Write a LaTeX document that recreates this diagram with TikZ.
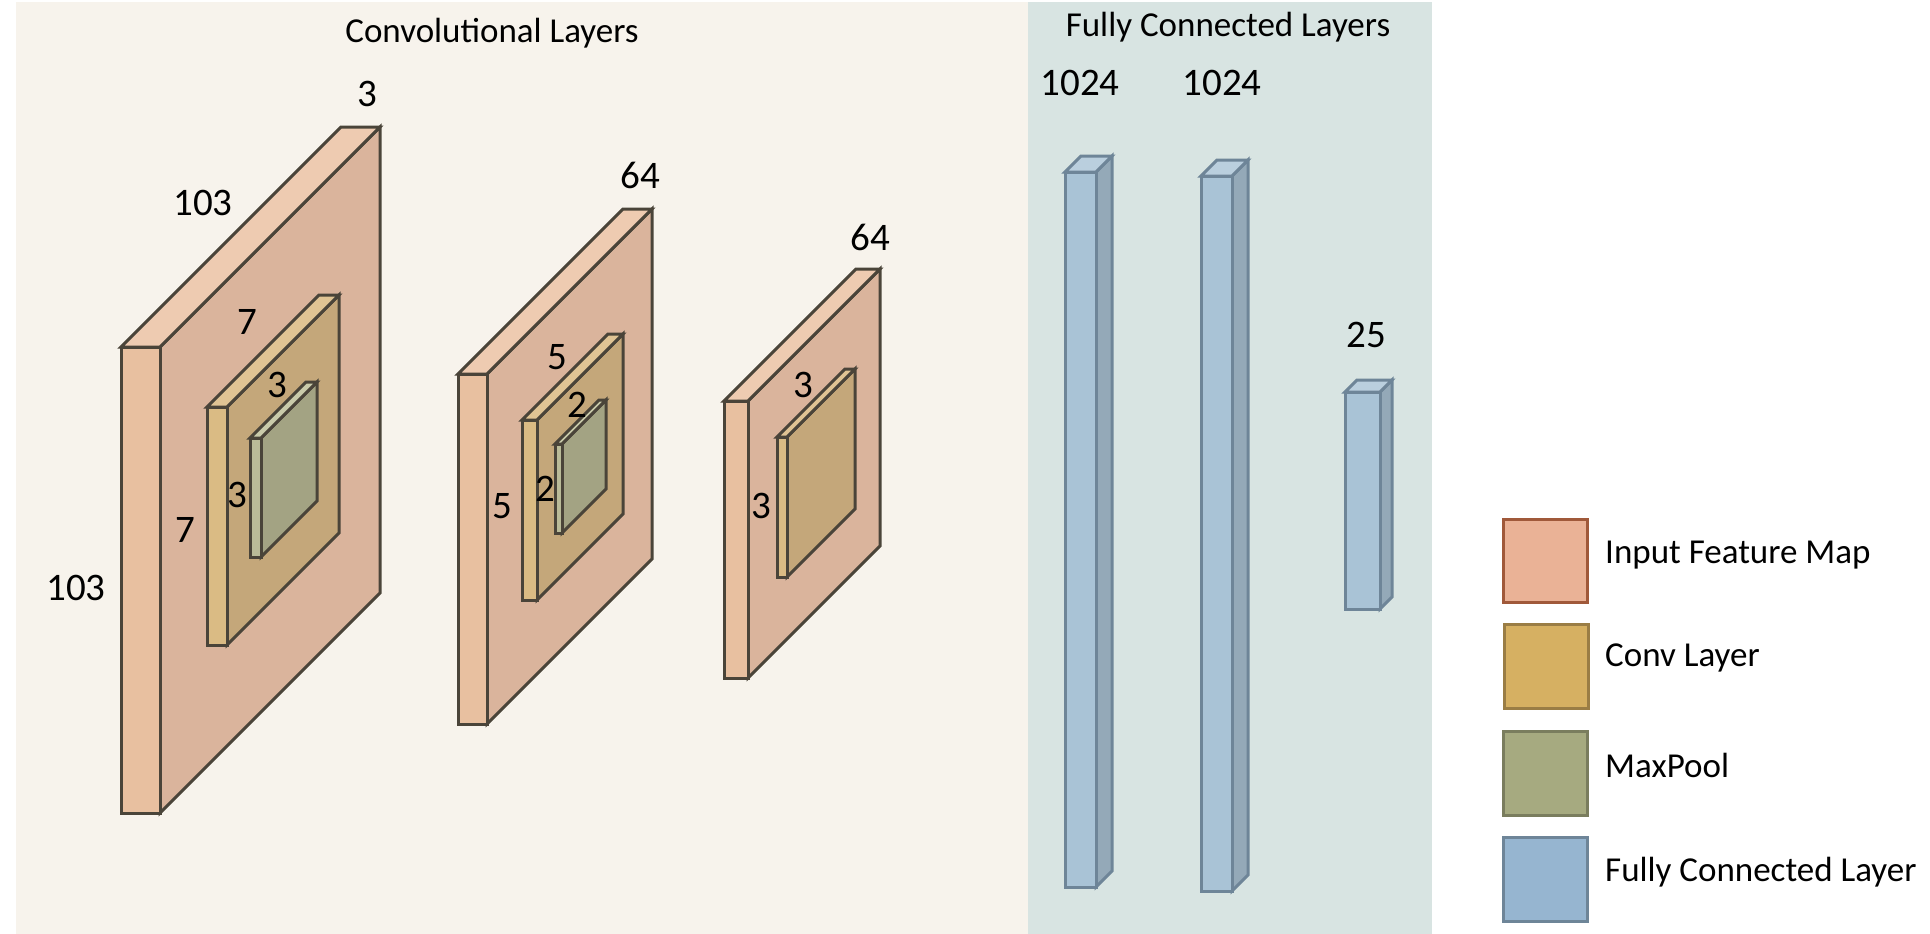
\documentclass[tikz,border=0pt]{standalone}
\usepackage{fontspec}
\setmainfont{Carlito}
\definecolor{bgL}{HTML}{F7F3EC}
\definecolor{bgR}{HTML}{D8E4E2}
\definecolor{edgeD}{HTML}{4A4439}
\definecolor{inFront}{HTML}{E8C0A0}
\definecolor{inTop}{HTML}{EECBB1}
\definecolor{inSide}{HTML}{DAB49C}
\definecolor{cvFront}{HTML}{DABB84}
\definecolor{cvTop}{HTML}{E0C494}
\definecolor{cvSide}{HTML}{C4A77A}
\definecolor{mpFront}{HTML}{BABB98}
\definecolor{mpTop}{HTML}{CACBAA}
\definecolor{mpSide}{HTML}{A3A383}
\definecolor{fcFront}{HTML}{A9C3D6}
\definecolor{fcTop}{HTML}{BACFDE}
\definecolor{fcSide}{HTML}{94A9B8}
\definecolor{fcEdge}{HTML}{6E8598}
\definecolor{lgIn}{HTML}{EAB296}
\definecolor{lgInE}{HTML}{A0593A}
\definecolor{lgCv}{HTML}{D6B062}
\definecolor{lgCvE}{HTML}{9A7D45}
\definecolor{lgMp}{HTML}{A6AA80}
\definecolor{lgMpE}{HTML}{7A7D5E}
\definecolor{lgFc}{HTML}{96B5D0}
\definecolor{lgFcE}{HTML}{6E8598}
% #1 x1, #2 x2, #3 ytop, #4 ybot, #5 depth, #6 front, #7 top, #8 side, #9 edge
\newcommand\cubx[9]{%
  \filldraw[fill=#8,draw=#9,line width=3pt,line join=miter]
    (#2,#3) -- ({#2+#5},{#3-#5}) -- ({#2+#5},{#4-#5}) -- (#2,#4) -- cycle;
  \filldraw[fill=#7,draw=#9,line width=3pt,line join=miter]
    (#1,#3) -- ({#1+#5},{#3-#5}) -- ({#2+#5},{#3-#5}) -- (#2,#3) -- cycle;
  \filldraw[fill=#6,draw=#9,line width=3pt,line join=miter]
    (#1,#3) rectangle (#2,#4);
}
\tikzset{
  numlbl/.style={font=\fontsize{39}{46}\selectfont, inner sep=0pt},
  ttl/.style={font=\fontsize{35}{42}\selectfont, inner sep=0pt},
  lgtxt/.style={font=\fontsize{35}{42}\selectfont, anchor=west, inner sep=0pt},
}
\begin{document}
\begin{tikzpicture}[x=1pt,y=-1pt]
\useasboundingbox (0,0) rectangle (1930,934);
\fill[white] (0,0) rectangle (1930,934);
\fill[bgL] (16,2) rectangle (1028,934);
\fill[bgR] (1028,2) rectangle (1432,934);

\node[ttl] (tconv) at (492,33) {Convolutional Layers};
\node[ttl] (tfc) at (1228,27) {Fully Connected Layers};

% block 1
\cubx{121}{160}{347}{813}{220}{inFront}{inTop}{inSide}{edgeD}
\cubx{207}{227}{407}{645}{112}{cvFront}{cvTop}{cvSide}{edgeD}
\cubx{250}{261}{438}{557}{56}{mpFront}{mpTop}{mpSide}{edgeD}
\node[numlbl] (l1a) at (367,94) {3};
\node[numlbl] (l1b) at (203,203) {103};
\node[numlbl] (l1c) at (76,588) {103};
\node[numlbl] (l1d) at (247,322) {7};
\node[numlbl] (l1e) at (185,530) {7};
\node[numlbl] (l1f) at (277,385) {3};
\node[numlbl] (l1g) at (237,495) {3};

% block 2
\cubx{458}{487}{374}{724}{165}{inFront}{inTop}{inSide}{edgeD}
\cubx{522}{537}{420}{600}{86}{cvFront}{cvTop}{cvSide}{edgeD}
\cubx{555}{562}{444}{533}{44}{mpFront}{mpTop}{mpSide}{edgeD}
\node[numlbl] (l2a) at (640,175) {64};
\node[numlbl] (l2b) at (557,357) {5};
\node[numlbl] (l2c) at (502,506) {5};
\node[numlbl] (l2d) at (577,405) {2};
\node[numlbl] (l2e) at (545,489) {2};

% block 3
\cubx{724}{748}{401}{678}{132}{inFront}{inTop}{inSide}{edgeD}
\cubx{777}{787}{437}{577}{68}{cvFront}{cvTop}{cvSide}{edgeD}
\node[numlbl] (l3a) at (870,237) {64};
\node[numlbl] (l3b) at (803,385) {3};
\node[numlbl] (l3c) at (761,506) {3};

% fully connected
\cubx{1065}{1096}{172}{887}{16}{fcFront}{fcTop}{fcSide}{fcEdge}
\cubx{1201}{1232}{176}{891}{16}{fcFront}{fcTop}{fcSide}{fcEdge}
\cubx{1345}{1380}{392}{609}{12}{fcFront}{fcTop}{fcSide}{fcEdge}
\node[numlbl] (f1) at (1080,83) {1024};
\node[numlbl] (f2) at (1222,83) {1024};
\node[numlbl] (f3) at (1366,335) {25};

% legend
\filldraw[fill=lgIn,draw=lgInE,line width=3pt] (1503,519) rectangle (1587,602);
\filldraw[fill=lgCv,draw=lgCvE,line width=3pt] (1504,624) rectangle (1588,708);
\filldraw[fill=lgMp,draw=lgMpE,line width=3pt] (1503,731) rectangle (1587,815);
\filldraw[fill=lgFc,draw=lgFcE,line width=3pt] (1503,837) rectangle (1587,921);
\node[lgtxt] (g1) at (1605,555) {Input Feature Map};
\node[lgtxt] (g2) at (1605,658) {Conv Layer};
\node[lgtxt] (g3) at (1605,765) {MaxPool};
\node[lgtxt] (g4) at (1605,872) {Fully Connected Layer};
\end{tikzpicture}
\end{document}
